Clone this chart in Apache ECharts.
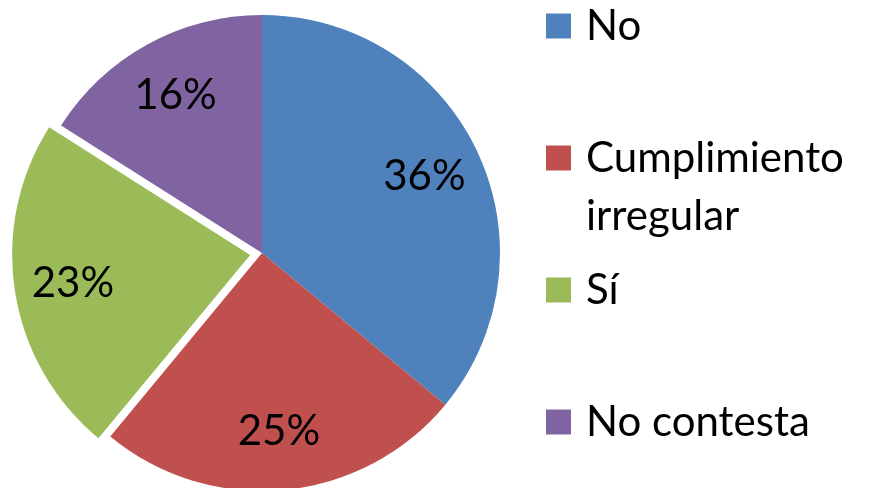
<!DOCTYPE html>
<html><head><meta charset="utf-8">
<script src="https://cdn.jsdelivr.net/npm/echarts@6/dist/echarts.min.js"></script>
<style>html,body{margin:0;padding:0;background:#fff}#c{width:869px;height:488px}</style>
</head><body><div id="c"></div>
<script>
const categories = ['No', 'Cumplimiento irregular', 'Sí', 'No contesta'];
const values = [36, 25, 23, 16];
const colors = ['#4F81BD', '#C0504D', '#9BBB59', '#8064A2'];
const explodedCategory = 'Sí';
const wrappedCategory = 'Cumplimiento irregular';

const FONT = 'Lato';
const chart = echarts.init(document.getElementById('c'), null, {renderer: 'canvas'});

const pieData = categories.map((n, i) => ({
  name: n, value: values[i], selected: n === explodedCategory,
  itemStyle: {color: colors[i]}
}));
const labelData = categories.map((n, i) => ({
  name: n, value: values[i], selected: n === explodedCategory
}));

const legendCenters = [26, 158, 290, 422];
const legends = categories.map((n, i) => {
  const twoLine = n === wrappedCategory;
  return {
    data: [n], orient: 'vertical', left: 546,
    top: twoLine ? legendCenters[i] - 87 : legendCenters[i] - 29,
    padding: 0, icon: 'rect', itemWidth: 25, itemHeight: 25,
    selectedMode: false,
    formatter: name => twoLine ? ' \n' + name.replace(' ', '\n') : name,
    textStyle: {
      fontFamily: FONT, fontSize: 42, color: '#000', lineHeight: 58,
      padding: [0, 0, 0, 10]
    }
  };
});

chart.setOption({
  animation: false,
  legend: legends,
  series: [
    {
      type: 'pie', center: [262, 253], radius: 238, startAngle: 90, clockwise: true,
      selectedMode: 'multiple', selectedOffset: 12, silent: true,
      label: {show: false}, labelLine: {show: false},
      itemStyle: {borderWidth: 0},
      emphasis: {disabled: true},
      data: pieData
    },
    {
      type: 'pie', center: [262, 253], radius: [115, 238], startAngle: 90, clockwise: true,
      selectedMode: 'multiple', selectedOffset: 12, silent: true,
      itemStyle: {color: 'rgba(0,0,0,0)', borderWidth: 0},
      label: {show: true, position: 'inside', formatter: '{c}%', fontFamily: FONT, fontSize: 42, color: '#000'},
      labelLine: {show: false},
      emphasis: {disabled: true},
      data: labelData
    }
  ]
});
</script></body></html>
